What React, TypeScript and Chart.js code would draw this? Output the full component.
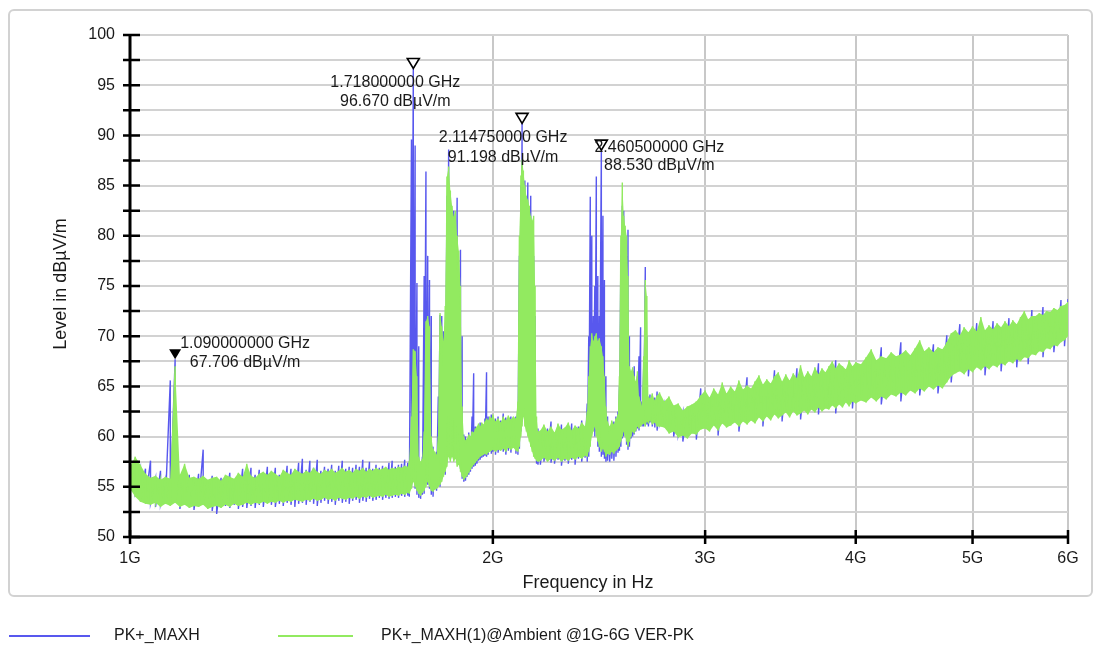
import React, { useEffect, useRef } from 'react';
import { Chart, registerables } from 'chart.js';

Chart.register(...registerables);

const FONT = '"Liberation Sans", Arial, Helvetica, sans-serif';
const BLUE = 'rgb(88, 88, 238)';
const GREEN = 'rgb(146, 234, 96)';

const seriesNames = ['PK+_MAXH', 'PK+_MAXH(1)@Ambient @1G-6G VER-PK'];
const xTicksGHz = [1, 2, 3, 4, 5, 6];
const yTicks = [50, 52.5, 55, 57.5, 60, 62.5, 65, 67.5, 70, 72.5, 75, 77.5, 80, 82.5, 85, 87.5, 90, 92.5, 95, 97.5, 100];

// Marker (peak) readouts
const markerFreqGHz = [1.09, 1.718, 2.11475, 2.4605];
const markerLevel = [67.706, 96.670, 91.198, 88.530];
const markerFilled = [true, false, false, false];

// Sweep frequencies (GHz) – each bin holds the max/min level seen in that bin
const freqGHz = [
  1.00, 1.01, 1.02, 1.03, 1.04, 1.05, 1.06, 1.07, 1.08, 1.09,
  1.10, 1.11, 1.12, 1.13, 1.14, 1.15, 1.16, 1.17, 1.18, 1.19,
  1.20, 1.21, 1.22, 1.23, 1.24, 1.25, 1.26, 1.27, 1.28, 1.29,
  1.30, 1.31, 1.32, 1.33, 1.34, 1.35, 1.36, 1.37, 1.38, 1.39,
  1.40, 1.41, 1.42, 1.43, 1.44, 1.45, 1.46, 1.47, 1.48, 1.49,
  1.50, 1.51, 1.52, 1.53, 1.54, 1.55, 1.56, 1.57, 1.58, 1.59,
  1.60, 1.61, 1.62, 1.63, 1.64, 1.65, 1.66, 1.67, 1.68, 1.69,
  1.70,
  1.705, 1.712, 1.718, 1.724, 1.730, 1.736, 1.742, 1.748, 1.754, 1.760,
  1.766, 1.772, 1.778, 1.784, 1.790, 1.796, 1.802, 1.808, 1.814, 1.820,
  1.826, 1.832, 1.838, 1.844, 1.850, 1.856, 1.862, 1.868, 1.874, 1.880,
  1.886, 1.892, 1.898, 1.904, 1.910, 1.916, 1.922, 1.928, 1.934, 1.940,
  1.946, 1.952, 1.958, 1.964, 1.970, 1.976, 1.982, 1.988, 1.994,
  2.000, 2.010, 2.020, 2.030, 2.040, 2.050, 2.060, 2.070, 2.080, 2.090,
  2.098, 2.104, 2.110, 2.11475, 2.120, 2.126, 2.132, 2.138, 2.144, 2.150,
  2.156, 2.162, 2.168, 2.174, 2.180,
  2.190, 2.205, 2.220, 2.235, 2.250, 2.265, 2.280, 2.295, 2.310, 2.325, 2.340, 2.355, 2.370, 2.385,
  2.395, 2.402, 2.409, 2.416, 2.423, 2.430, 2.437, 2.444, 2.451, 2.4605,
  2.468, 2.475, 2.482, 2.490, 2.500, 2.510, 2.520, 2.530, 2.540, 2.547,
  2.554, 2.561, 2.568, 2.575, 2.582, 2.589, 2.596, 2.604, 2.612, 2.620,
  2.628, 2.636, 2.644, 2.652, 2.660, 2.668, 2.676, 2.684, 2.692, 2.700,
  2.712, 2.725, 2.737,
  2.750, 2.775, 2.800, 2.825, 2.850, 2.875, 2.900, 2.925, 2.950, 2.975, 3.000,
  3.025, 3.050, 3.075, 3.100, 3.125, 3.150, 3.175, 3.200, 3.225, 3.250,
  3.275, 3.300, 3.325, 3.350, 3.375, 3.400, 3.425, 3.450, 3.475, 3.500,
  3.525, 3.550, 3.575, 3.600, 3.625, 3.650, 3.675, 3.700, 3.725, 3.750,
  3.775, 3.800, 3.825, 3.850, 3.875, 3.900, 3.925, 3.950, 3.975, 4.000,
  4.04, 4.08, 4.12, 4.16, 4.20, 4.24, 4.28, 4.32, 4.36, 4.40,
  4.44, 4.48, 4.52, 4.56, 4.60, 4.64, 4.68, 4.72, 4.76, 4.80,
  4.84, 4.88, 4.92, 4.96, 5.00, 5.04, 5.08, 5.12, 5.16, 5.20,
  5.24, 5.28, 5.32, 5.36, 5.40, 5.44, 5.48, 5.52, 5.56, 5.60,
  5.64, 5.68, 5.72, 5.76, 5.80, 5.84, 5.88, 5.92, 5.96, 6.00,
];

// PK+_MAXH (blue) – bin maxima / minima, dBµV/m
const blueHigh = [
  57.3, 57.5, 56.8, 56.8, 57.6, 55.8, 56.6, 55.7, 65.6, 67.706,
  56.0, 56.3, 56.2, 55.8, 56.3, 58.7, 55.6, 56.1, 55.8, 55.9,
  56.0, 56.4, 55.7, 56.2, 56.8, 56.0, 56.9, 56.2, 56.7, 56.3,
  57.0, 56.4, 56.9, 56.2, 56.5, 57.1, 56.8, 56.4, 57.4, 57.8,
  56.7, 57.6, 56.9, 57.7, 56.6, 57.0, 56.8, 57.2, 56.6, 57.1,
  57.6, 56.8, 57.0, 56.9, 57.2, 57.0, 57.7, 56.9, 57.5, 56.8,
  57.2, 56.9, 57.1, 56.9, 57.4, 57.6, 57.0, 57.2, 57.3, 57.7,
  57.4,
  57.0, 89.6, 96.67, 89.0, 75.3, 69.0, 57.2, 58.0, 76.0, 86.4,
  78.0, 75.6, 72.0, 59.0, 58.2, 58.5, 64.0, 72.1, 72.0, 70.5,
  71.0, 84.0, 88.6, 82.0, 80.5, 82.5, 80.0, 83.8, 76.0, 78.6,
  70.0, 60.2, 60.0, 59.5, 60.4, 59.8, 62.0, 66.3, 61.0, 60.7,
  61.0, 61.4, 61.2, 61.0, 61.8, 66.4, 62.0, 61.8, 62.2,
  61.9, 61.8, 62.0, 61.6, 62.3, 61.9, 61.8, 62.0, 61.9, 62.0,
  63.0, 78.0, 85.0, 91.198, 84.0, 85.5, 82.0, 85.3, 80.0, 84.0,
  79.0, 78.0, 72.0, 60.5, 60.8,
  60.3, 61.0, 60.8, 61.5, 60.2, 60.8, 61.2, 60.5, 61.0, 61.3, 60.7, 61.0, 61.6, 60.8,
  63.3, 70.0, 83.9, 80.0, 72.0, 75.0, 85.9, 76.0, 72.0, 88.53,
  82.0, 75.6, 66.0, 62.0, 60.8, 61.2, 61.5, 62.0, 62.5, 65.0,
  78.0, 83.0, 82.5, 79.0, 78.0, 80.6, 70.0, 66.0, 66.5, 67.0,
  65.0, 66.0, 68.0, 70.9, 63.5, 67.0, 76.9, 70.0, 63.5, 64.2,
  64.0, 63.9, 64.5,
  64.0, 63.2, 63.6, 63.0, 62.9, 62.4, 62.7, 63.0, 63.2, 64.8, 64.2,
  63.6, 64.5, 64.0, 64.9, 64.1, 64.6, 64.3, 65.2, 64.4, 65.9,
  64.5, 65.1, 65.8, 65.0, 65.4, 65.1, 66.6, 66.0, 65.2, 65.9,
  65.3, 65.9, 66.8, 66.7, 65.6, 66.2, 65.8, 66.5, 67.3, 66.5,
  66.1, 66.7, 67.2, 67.6, 67.0, 66.8, 66.4, 67.3, 66.8, 67.1,
  66.9, 67.6, 68.3, 67.4, 68.9, 67.5, 68.1, 67.7, 69.4, 68.3,
  67.8, 68.5, 69.3, 68.2, 68.6, 69.2, 68.6, 68.4, 70.1, 70.0,
  70.3, 71.2, 70.6, 70.1, 70.7, 71.3, 71.6, 70.3, 70.8, 71.5,
  71.0, 70.6, 71.2, 71.8, 71.3, 70.9, 71.6, 72.2, 71.4, 72.6,
  71.7, 72.0, 72.9, 72.2, 72.1, 72.5, 72.3, 73.6, 72.8, 73.7,
];
const blueLow = [
  54.3, 54.5, 53.8, 53.6, 53.4, 53.0, 53.3, 53.5, 53.4, 53.6,
  52.8, 53.4, 53.1, 52.7, 53.2, 53.3, 52.9, 52.6, 52.3, 53.0,
  53.1, 52.9, 53.2, 52.8, 53.0, 52.9, 53.1, 52.9, 53.2, 53.0,
  53.4, 53.2, 53.0, 53.3, 53.1, 53.4, 53.2, 53.0, 53.3, 53.4,
  53.2, 53.5, 53.3, 53.1, 53.4, 53.6, 53.3, 53.5, 53.2, 53.6,
  53.4, 53.5, 53.3, 53.6, 53.7, 53.4, 53.6, 53.5, 53.8, 53.6,
  53.7, 53.9, 53.7, 53.9, 53.8, 53.9, 54.0, 53.9, 54.1, 54.0,
  54.1,
  54.0, 55.0, 56.0, 54.8, 54.2, 53.9, 53.8, 54.2, 54.3, 55.5,
  55.2, 54.8, 54.2, 54.0, 54.9, 54.6, 55.2, 55.0, 55.8, 56.5,
  56.2, 57.5, 58.5, 61.9, 60.0, 59.0, 58.0, 57.5, 58.0, 56.8,
  55.8, 55.5, 55.6, 56.0, 56.2, 56.5, 56.8, 57.0, 57.1, 57.3,
  57.6, 57.7, 57.9, 58.0, 58.1, 58.0, 58.2, 58.6, 58.3,
  58.5, 58.2, 58.4, 58.9, 58.5, 58.2, 58.6, 58.4, 59.0, 58.3,
  58.2, 58.8, 60.5, 61.5, 62.5, 63.0, 61.0, 60.5, 60.0, 59.2,
  59.0, 58.5, 58.0, 57.3, 57.2,
  57.2, 57.5, 57.8, 57.4, 57.3, 57.7, 57.1, 57.6, 57.3, 57.7, 57.2, 57.8, 57.5, 57.9,
  57.5, 58.0, 59.5, 60.5, 61.0, 60.0, 60.5, 59.0, 58.5, 58.0,
  58.2, 57.8, 57.5, 57.6, 57.5, 57.8, 57.6, 58.0, 58.4, 58.6,
  59.0, 59.8, 60.0, 60.5, 59.2, 58.7, 59.0, 59.8, 60.0, 60.2,
  60.5, 60.8, 60.6, 61.2, 61.0, 61.0, 61.5, 61.2, 61.0, 61.4,
  61.0, 60.9, 60.6,
  61.3, 61.1, 60.6, 60.0, 60.2, 59.5, 60.1, 60.5, 59.7, 60.9, 61.0,
  60.8, 61.3, 60.1, 61.5, 61.1, 61.3, 61.6, 60.5, 61.7, 61.4,
  61.8, 61.5, 62.1, 61.0, 62.2, 61.8, 62.4, 62.0, 61.5, 62.6,
  62.1, 62.7, 62.3, 61.7, 62.8, 62.4, 62.9, 62.6, 62.2, 62.7,
  63.0, 62.9, 63.3, 62.3, 63.4, 63.1, 63.6, 63.2, 62.8, 63.5,
  63.8, 63.6, 64.1, 63.7, 63.2, 63.9, 64.4, 64.2, 63.5, 64.3,
  64.8, 64.5, 64.1, 64.7, 65.2, 64.9, 64.3, 65.0, 65.6, 65.4,
  66.5, 66.7, 66.4, 66.0, 66.6, 67.1, 66.8, 66.1, 66.9, 67.3,
  67.1, 66.5, 67.3, 67.7, 67.5, 66.9, 67.7, 68.1, 67.2, 68.4,
  68.3, 68.7, 67.9, 69.0, 68.9, 68.4, 69.2, 69.6, 69.0, 70.2,
];

// PK+_MAXH(1)@Ambient (green) – bin maxima / minima, dBµV/m
const greenHigh = [
  57.0, 58.0, 57.2, 56.3, 55.9, 56.1, 55.7, 56.0, 55.8, 67.0,
  56.2, 57.3, 55.9, 56.0, 55.8, 56.1, 55.7, 55.9, 56.0, 55.6,
  56.2, 56.0, 55.8, 56.4, 56.0, 57.3, 56.1, 55.9, 56.3, 56.5,
  56.2, 56.6, 56.3, 56.0, 56.7, 56.4, 56.2, 56.8, 56.5, 56.3,
  56.6, 56.4, 56.9, 56.5, 56.3, 56.7, 56.5, 56.8, 56.4, 56.6,
  56.9, 56.5, 56.7, 56.4, 56.8, 56.6, 56.9, 56.5, 56.8, 56.6,
  56.9, 56.7, 56.8, 57.0, 56.7, 56.9, 56.8, 57.0, 56.9, 57.1,
  57.0,
  57.6, 62.0, 68.7, 68.5, 66.0, 58.0, 57.5, 57.8, 60.5, 71.5,
  72.0, 71.0, 60.0, 58.8, 58.5, 58.2, 60.0, 72.3, 71.0, 69.5,
  73.0, 85.9, 86.9, 84.5, 83.0, 81.9, 82.5, 80.0, 78.5, 75.0,
  63.0, 60.0, 59.6, 59.8, 60.2, 60.0, 60.5, 60.4, 60.8, 61.0,
  61.3, 61.0, 61.4, 61.2, 61.5, 61.8, 61.6, 62.0, 61.8,
  62.2, 61.5, 61.8, 61.4, 62.0, 61.6, 62.1, 61.7, 62.0, 61.8,
  63.5, 80.0, 86.0, 87.6, 86.5, 85.0, 84.0, 83.6, 83.0, 82.0,
  81.5, 82.0, 75.0, 62.0, 60.5,
  60.6, 61.2, 60.5, 61.0, 60.4, 61.3, 60.7, 60.9, 61.4, 60.6, 61.1, 60.8, 61.4, 61.0,
  62.5, 66.0, 69.0, 70.3, 69.5, 70.0, 70.3, 69.5, 69.8, 69.0,
  68.0, 66.0, 63.0, 61.5, 61.0, 61.6, 61.2, 61.8, 62.2, 66.0,
  80.0, 85.3, 82.0, 81.0, 80.0, 76.0, 67.0, 66.5, 66.9, 66.0,
  65.5, 66.5, 64.0, 63.5, 63.0, 68.0, 75.6, 74.0, 64.0, 63.8,
  64.3, 63.6, 64.1,
  64.4, 63.5, 64.0, 63.1, 63.3, 62.6, 63.0, 63.2, 63.5, 64.1, 64.6,
  63.9, 64.8, 64.2, 65.4, 64.3, 65.0, 64.5, 65.6, 64.7, 65.1,
  64.8, 65.5, 66.1, 65.2, 65.7, 65.3, 66.0, 66.4, 65.5, 66.2,
  65.6, 66.3, 65.8, 67.1, 65.9, 66.5, 66.0, 66.9, 66.2, 66.8,
  66.4, 67.0, 67.5, 66.8, 67.3, 67.0, 66.7, 67.6, 67.0, 67.4,
  67.2, 67.9, 68.7, 67.6, 68.0, 67.8, 68.4, 68.0, 68.2, 68.6,
  68.1, 68.8, 69.6, 68.5, 68.9, 68.4, 68.9, 68.7, 69.4, 70.3,
  70.6, 70.1, 70.9, 70.4, 71.0, 70.5, 71.9, 70.6, 71.1, 70.7,
  71.3, 70.9, 71.5, 71.0, 71.6, 71.2, 71.9, 72.5, 71.7, 72.0,
  72.0, 72.3, 72.1, 72.5, 72.4, 72.8, 72.6, 73.0, 73.1, 73.4,
];
const greenLow = [
  54.8, 54.0, 53.5, 53.3, 53.2, 53.4, 53.0, 53.3, 53.1, 53.4,
  53.0, 53.2, 52.9, 53.1, 53.0, 53.2, 52.8, 53.0, 53.1, 52.9,
  53.2, 53.0, 53.3, 53.1, 53.2, 53.4, 53.2, 53.4, 53.3, 53.5,
  53.3, 53.5, 53.4, 53.6, 53.4, 53.6, 53.5, 53.7, 53.6, 53.5,
  53.7, 53.6, 53.8, 53.6, 53.7, 53.9, 53.7, 53.8, 53.6, 53.9,
  53.8, 53.7, 53.9, 53.8, 54.0, 53.8, 54.0, 53.9, 54.1, 53.9,
  54.0, 54.1, 54.0, 54.2, 54.0, 54.1, 54.2, 54.1, 54.3, 54.2,
  54.4,
  54.3, 54.8, 55.5, 55.0, 54.6, 54.3, 54.1, 54.4, 54.6, 55.0,
  55.5, 55.0, 54.6, 54.5, 54.7, 54.8, 55.0, 55.2, 55.5, 56.0,
  56.5, 57.0, 58.0, 57.5, 58.0, 57.5, 57.8, 57.0, 57.2, 56.5,
  56.0, 55.7, 55.9, 56.1, 56.4, 56.7, 57.0, 57.2, 57.4, 57.6,
  57.8, 58.0, 58.1, 58.2, 58.3, 58.2, 58.4, 58.5, 58.6,
  58.7, 58.5, 58.7, 58.6, 58.8, 58.5, 58.9, 58.7, 58.9, 58.6,
  58.5, 59.0, 60.0, 61.0, 62.0, 61.0, 60.5, 60.0, 59.5, 59.0,
  58.5, 58.0, 57.8, 57.6, 57.5,
  57.6, 57.9, 57.5, 57.8, 57.6, 57.9, 57.5, 57.8, 57.6, 57.9, 57.7, 58.0, 57.8, 58.1,
  58.0, 58.5, 59.0, 60.0, 60.5, 61.0, 60.0, 59.5, 59.0, 58.5,
  58.8, 58.5, 58.0, 58.3, 58.2, 58.5, 58.3, 58.6, 58.8, 59.0,
  59.5, 60.0, 60.5, 60.0, 59.5, 59.0, 59.5, 60.0, 60.5, 60.3,
  60.6, 61.0, 60.8, 61.0, 61.2, 61.3, 61.0, 61.5, 61.3, 61.6,
  61.2, 61.4, 61.0,
  61.0, 60.9, 60.3, 60.5, 59.9, 60.1, 59.8, 60.3, 60.2, 60.7, 60.8,
  60.5, 61.1, 60.6, 61.3, 60.9, 61.1, 61.4, 61.0, 61.5, 61.2,
  61.6, 61.3, 61.9, 61.5, 62.0, 61.6, 62.2, 61.8, 62.1, 62.4,
  61.9, 62.5, 62.1, 62.3, 62.6, 62.2, 62.7, 62.4, 62.9, 62.5,
  62.8, 62.7, 63.1, 62.8, 63.2, 62.9, 63.4, 63.0, 63.5, 63.3,
  63.6, 63.4, 63.9, 63.5, 64.0, 63.7, 64.2, 64.0, 64.4, 64.1,
  64.6, 64.3, 64.8, 64.5, 65.0, 64.7, 65.1, 64.8, 65.4, 66.0,
  66.3, 66.5, 66.2, 66.7, 66.4, 66.9, 66.6, 67.0, 66.7, 67.1,
  66.9, 67.3, 67.1, 67.5, 67.3, 67.7, 67.5, 67.9, 67.8, 68.2,
  68.1, 68.5, 68.4, 68.8, 68.7, 69.1, 69.0, 69.4, 69.6, 70.0,
];

// Label placement of the marker readouts relative to the marker tip (px)
const markerLabelDx = [70, -18, -19, 58];
const markerLabelDy1 = [-16, 14, 14, -3];
const markerLabelDy2 = [3, 33, 34, 15];

const W = 1101;
const H = 649;

export default function App() {
  const ref = useRef<HTMLCanvasElement>(null);

  useEffect(() => {
    const canvas = ref.current;
    if (!canvas) return;
    const n = Math.min(freqGHz.length, blueHigh.length, blueLow.length, greenHigh.length, greenLow.length);

    const envelope = (vals: number[]) => {
      const out: { x: number; y: number }[] = [];
      for (let i = 0; i < n; i++) out.push({ x: freqGHz[i], y: vals[i] });
      return out;
    };
    const trace = (hi: number[], lo: number[]) => {
      const out: { x: number; y: number }[] = [];
      for (let i = 0; i < n; i++) {
        out.push({ x: freqGHz[i], y: hi[i] });
        out.push({ x: freqGHz[i], y: lo[i] });
      }
      return out;
    };

    const decor = {
      id: 'decor',
      beforeDraw(chart: any) {
        const ctx = chart.ctx;
        ctx.save();
        ctx.fillStyle = '#ffffff';
        ctx.fillRect(0, 0, W, H);
        ctx.strokeStyle = '#d2d2d2';
        ctx.lineWidth = 2;
        ctx.beginPath();
        (ctx as any).roundRect(9, 10, 1083, 586, 5);
        ctx.stroke();
        ctx.restore();
      },
      afterDatasetsDraw(chart: any) {
        const ctx = chart.ctx;
        const xs = chart.scales.x;
        const ys = chart.scales.y;
        const { left, right, top, bottom } = chart.chartArea;
        ctx.save();
        ctx.strokeStyle = '#000';
        ctx.lineWidth = 3;
        ctx.beginPath();
        ctx.moveTo(left, top - 1);
        ctx.lineTo(left, bottom + 1);
        ctx.moveTo(left - 1, bottom);
        ctx.lineTo(right + 1, bottom);
        ctx.stroke();
        ctx.lineWidth = 2.5;
        ctx.beginPath();
        yTicks.forEach((v) => {
          const py = ys.getPixelForValue(v);
          ctx.moveTo(left - 7, py);
          ctx.lineTo(left + 10, py);
        });
        xTicksGHz.forEach((f) => {
          const px = xs.getPixelForValue(f);
          ctx.moveTo(px, bottom - 7);
          ctx.lineTo(px, bottom + 7);
        });
        ctx.stroke();

        // markers
        ctx.font = `16px ${FONT}`;
        ctx.textAlign = 'center';
        ctx.textBaseline = 'middle';
        markerFreqGHz.forEach((f, i) => {
          const px = xs.getPixelForValue(f);
          const py = ys.getPixelForValue(markerLevel[i]);
          ctx.beginPath();
          ctx.moveTo(px - 6, py - 10);
          ctx.lineTo(px + 6, py - 10);
          ctx.lineTo(px, py);
          ctx.closePath();
          if (markerFilled[i]) {
            ctx.fillStyle = '#000';
            ctx.fill();
          } else {
            ctx.fillStyle = '#fff';
            ctx.fill();
            ctx.lineWidth = 1.6;
            ctx.strokeStyle = '#000';
            ctx.stroke();
          }
          ctx.fillStyle = '#1a1a1a';
          ctx.fillText(`${f.toFixed(9)} GHz`, px + markerLabelDx[i], py + markerLabelDy1[i]);
          ctx.fillText(`${markerLevel[i].toFixed(3)} dBµV/m`, px + markerLabelDx[i], py + markerLabelDy2[i]);
        });
        ctx.restore();
      },
      afterDraw(chart: any) {
        const ctx = chart.ctx;
        ctx.save();
        ctx.fillStyle = '#1a1a1a';
        ctx.font = `18px ${FONT}`;
        ctx.textAlign = 'center';
        ctx.textBaseline = 'middle';
        ctx.save();
        ctx.translate(61, 284);
        ctx.rotate(-Math.PI / 2);
        ctx.fillText('Level in dBµV/m', 0, 0);
        ctx.restore();
        ctx.fillText('Frequency in Hz', 588, 583);

        // legend
        ctx.lineWidth = 2;
        ctx.strokeStyle = BLUE;
        ctx.beginPath();
        ctx.moveTo(9, 636);
        ctx.lineTo(90, 636);
        ctx.stroke();
        ctx.strokeStyle = GREEN;
        ctx.beginPath();
        ctx.moveTo(278, 636);
        ctx.lineTo(353, 636);
        ctx.stroke();
        ctx.font = `16px ${FONT}`;
        ctx.textAlign = 'left';
        ctx.fillStyle = '#1a1a1a';
        ctx.fillText(seriesNames[0], 114, 636);
        ctx.fillText(seriesNames[1], 381, 636);
        ctx.restore();
      },
    };

    const chart = new Chart(canvas, {
      type: 'line',
      data: {
        datasets: [
          { label: seriesNames[1], data: trace(greenHigh, greenLow), borderColor: GREEN, backgroundColor: GREEN, borderWidth: 1.4, pointRadius: 0, fill: false, order: 1 },
          { label: 'ambient max', data: envelope(greenHigh), borderColor: 'rgba(0,0,0,0)', backgroundColor: GREEN, borderWidth: 0, pointRadius: 0, fill: 2, order: 2 },
          { label: 'ambient min', data: envelope(greenLow), borderColor: 'rgba(0,0,0,0)', backgroundColor: GREEN, borderWidth: 0, pointRadius: 0, fill: false, order: 3 },
          { label: seriesNames[0], data: trace(blueHigh, blueLow), borderColor: BLUE, backgroundColor: BLUE, borderWidth: 1.4, pointRadius: 0, fill: false, order: 4 },
        ] as any,
      },
      options: {
        animation: false,
        responsive: false,
        events: [],
        layout: { padding: { left: 0, right: 33, top: 35, bottom: 0 } },
        plugins: {
          legend: { display: false },
          tooltip: { enabled: false },
          title: { display: false },
        },
        scales: {
          x: {
            type: 'logarithmic',
            min: 1,
            max: 6,
            afterBuildTicks: (s: any) => {
              s.ticks = xTicksGHz.map((v) => ({ value: v }));
            },
            afterFit: (s: any) => {
              s.height = 112;
            },
            ticks: {
              callback: (v: any) => `${v}G`,
              font: { family: FONT, size: 16 },
              color: '#1a1a1a',
              padding: 12,
              maxRotation: 0,
              autoSkip: false,
            },
            grid: { color: '#c8c8c8', lineWidth: 2, drawTicks: false },
            border: { display: false },
          },
          y: {
            type: 'linear',
            min: 50,
            max: 100,
            afterBuildTicks: (s: any) => {
              s.ticks = yTicks.map((v) => ({ value: v }));
            },
            afterFit: (s: any) => {
              s.width = 130;
            },
            ticks: {
              callback: (v: any) => (Number(v) % 5 === 0 ? String(v) : ''),
              font: { family: FONT, size: 16 },
              color: '#1a1a1a',
              padding: 15,
              autoSkip: false,
            },
            grid: { color: '#d2d2d2', lineWidth: 2, drawTicks: false },
            border: { display: false },
          },
        },
      } as any,
      plugins: [decor],
    });
    return () => chart.destroy();
  }, []);

  return (
    <div style={{ position: 'absolute', left: 0, top: 0, width: W, height: H, background: '#fff' }}>
      <canvas ref={ref} width={W} height={H} style={{ display: 'block', width: W, height: H }} />
    </div>
  );
}
